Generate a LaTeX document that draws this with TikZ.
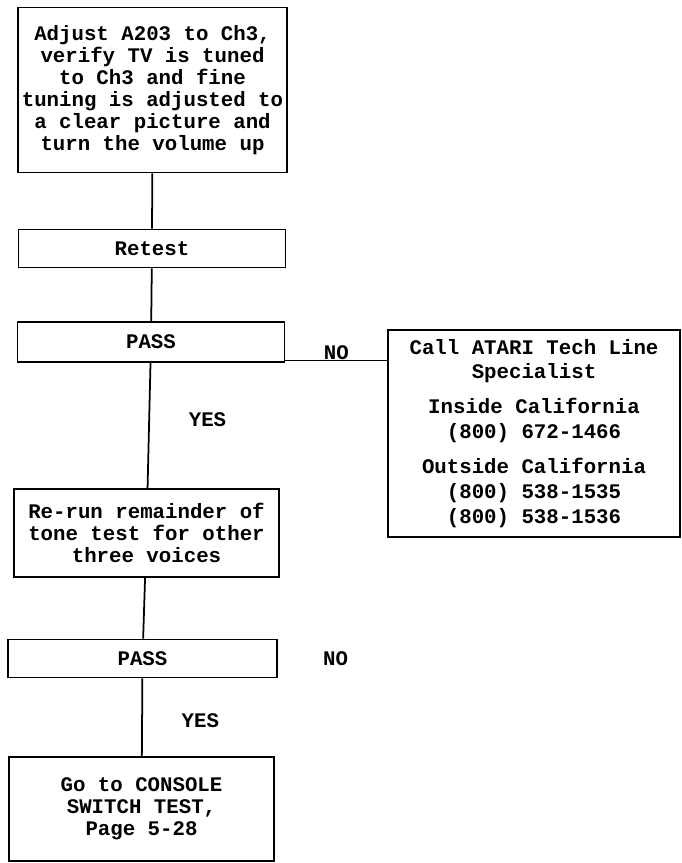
\documentclass[tikz,border=0pt]{standalone}
\usepackage{fontspec}
\setmainfont{Liberation Mono}
\usetikzlibrary{positioning}

\begin{document}
\begin{tikzpicture}[
  font=\fontsize{11.8}{12.5}\selectfont\bfseries,
  box/.style={draw, line width=1.1pt, align=center, inner sep=1pt},
  tbox/.style={box, minimum height=0.76cm, minimum width=5.34cm},
  lbl/.style={inner sep=1pt},
  link/.style={line width=1pt},
]
\useasboundingbox (0,0) rectangle (13.62,-17.26);

% Left column
\node[box, minimum width=5.38cm, minimum height=3.30cm] (adjust) at (3.05,-1.80)
  {Adjust A203 to Ch3,\\ verify TV is tuned\\ to Ch3 and fine\\ tuning is adjusted to\\ a clear picture and\\ turn the volume up};
\node[tbox] (retest) at (3.04,-4.97) {Retest};
\node[tbox, minimum height=0.80cm] (pass1) at (3.02,-6.84) {PASS};
\node[box, minimum width=5.30cm, minimum height=1.76cm] (rerun) at (2.93,-10.66)
  {Re-run remainder of\\ tone test for other\\ three voices};
\node[tbox, minimum width=5.38cm] (pass2) at (2.85,-13.17) {PASS};
\node[box, minimum width=5.30cm, minimum height=2.08cm] (console) at (2.83,-16.18)
  {Go to CONSOLE\\ SWITCH TEST,\\ Page 5-28};

% Tech line box
\node[box, font=\fontsize{11.8}{14.2}\selectfont\bfseries, minimum width=5.84cm, minimum height=4.14cm] (call) at (10.68,-8.67)
  {Call ATARI Tech Line\\ Specialist\\[0.2cm] Inside California\\ (800) 672-1466\\[0.2cm] Outside California\\ (800) 538-1535\\ (800) 538-1536};

% Flows
\draw[link] (adjust) -- (retest);
\draw[link] (retest) -- (pass1);
\draw[link] (pass1) -- (rerun) node[lbl, pos=0.45, right=0.74cm] (yes1) {YES};
\draw[link] (rerun) -- (pass2);
\draw[link] (pass2) -- (console) node[lbl, pos=0.55, right=0.74cm] (yes2) {YES};

\coordinate (nostart) at ([yshift=0.05cm]pass1.south east);
\draw[link] (nostart) -- (nostart -| call.west) node[lbl, midway, above, inner sep=0pt] (no1) {NO};
\node[lbl, right=0.86cm of pass2] (no2) {NO};
\end{tikzpicture}
\end{document}
